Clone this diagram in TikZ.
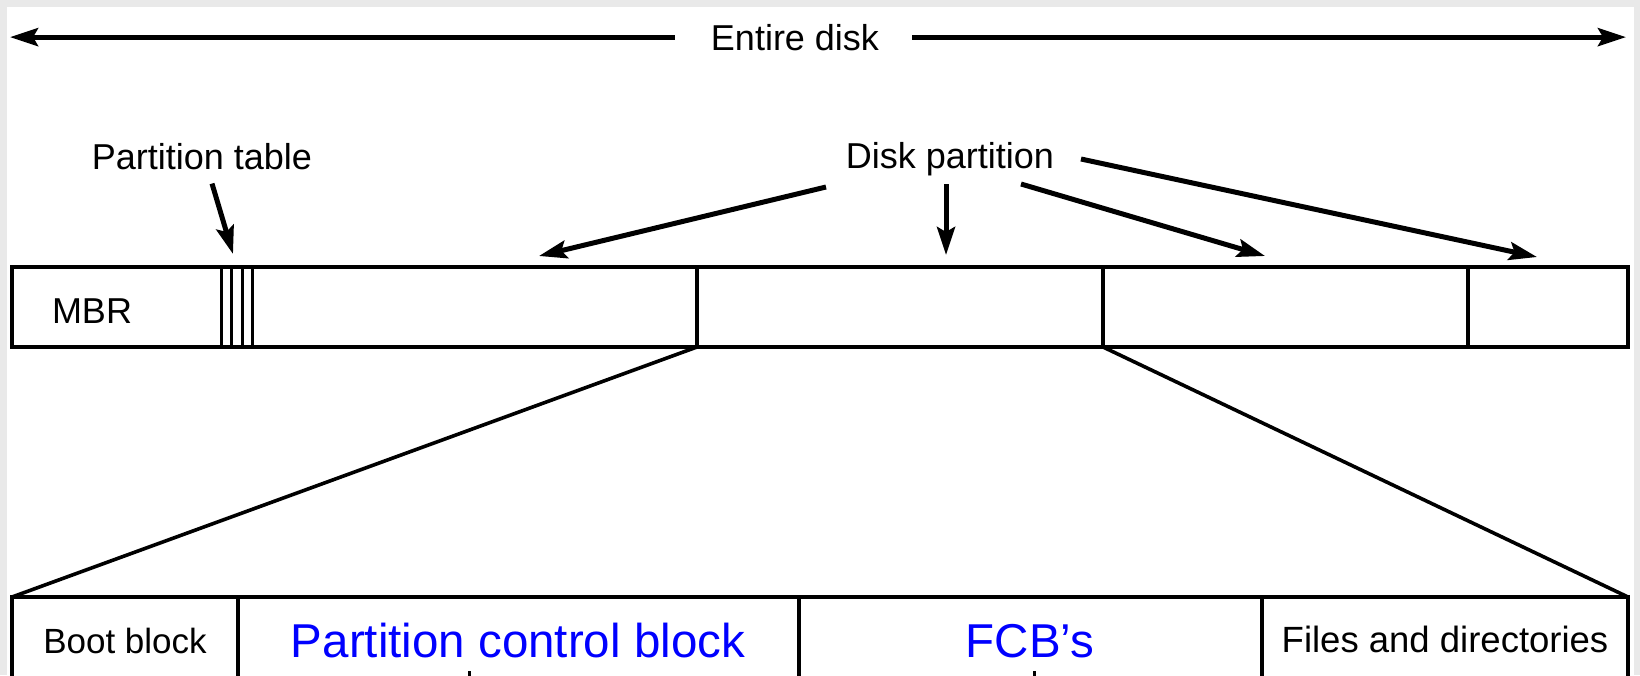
\documentclass[tikz,border=0pt]{standalone}
\usepackage{fontspec}
\setmainfont{Liberation Sans}
\usetikzlibrary{arrows.meta}
\definecolor{framegray}{RGB}{233,233,233}
\definecolor{pcbblue}{RGB}{0,0,255}

\begin{document}
\begin{tikzpicture}[x=1pt,y=-1pt,
  lbl/.style={inner sep=0pt, anchor=base, font=\fontsize{36}{40}\selectfont},
  cell/.style={inner sep=0pt, anchor=base, font=\fontsize{35}{40}\selectfont},
  widecell/.style={cell, font=\fontsize{36.5}{40}\selectfont},
  bluecell/.style={inner sep=0pt, anchor=base, text=pcbblue, font=\fontsize{47.5}{52}\selectfont},
  pointer/.style={line width=5pt, -{Stealth[length=28pt,width=18pt,inset=5pt]}},
  outline/.style={line width=3.6pt},
  tableline/.style={line width=3pt}]

\useasboundingbox (0,0) rectangle (1640,675);
\fill[framegray] (0,0) rectangle (1640,675);
\fill[white] (7,7) rectangle (1634,675);

% whole-disk span
\node[lbl] (entire) at (795,50) {Entire disk};
\coordinate (diskL) at (10,36);
\coordinate (diskR) at (1626,36);
\draw[pointer] ([xshift=-36pt]entire.west) -- (entire.west -| diskL);
\draw[pointer] ([xshift=33pt]entire.east) -- (entire.east -| diskR);

% labels above the disk bar
\node[lbl] (ptab) at (202,169) {Partition table};
\node[lbl] (dpart) at (950,168) {Disk partition};

\coordinate (ptabtip) at (233,254);
\draw[pointer] ([xshift=10pt,yshift=-14pt]ptab.south) -- (ptabtip);

\coordinate (dpA) at (826,187);  \coordinate (tipA) at (539,256);
\coordinate (dpB) at (946,184);  \coordinate (tipB) at (946,255);
\coordinate (dpC) at (1021,184); \coordinate (tipC) at (1265,256);
\coordinate (dpD) at (1081,159); \coordinate (tipD) at (1537,257);
\draw[pointer] (dpA) -- (tipA);
\draw[pointer] (dpB) -- (tipB);
\draw[pointer] (dpC) -- (tipC);
\draw[pointer] (dpD) -- (tipD);

% disk bar
\draw[outline] (12,267) rectangle (1628,347);
\foreach \x in {221,231,242,252} \draw[tableline] (\x,267) -- (\x,347);
\draw[outline] (697,267) -- (697,347);
\draw[outline] (1103,267) -- (1103,347);
\draw[outline] (1468,267) -- (1468,347);
\node[lbl] (mbr) at (92,323) {MBR};

% zoom lines to the partition layout
\coordinate (d1b) at (697,347);
\coordinate (d2b) at (1103,347);
\coordinate (bl) at (12,597);
\coordinate (br) at (1628,597);
\draw[outline] (d1b) -- (bl);
\draw[outline] (d2b) -- (br);

% partition layout
\draw[outline] (12,680) -- (bl) -- (br) -- (1628,680);
\foreach \x in {238,799,1262} \draw[outline] (\x,597) -- (\x,680);

\node[cell] (boot) at (125,653) {Boot block};
\node[bluecell] (pcb) at (518,657) {Partition control block};
\node[bluecell] (fcb) at (1030,657) {FCB’s};
\node[widecell] (files) at (1445,652) {Files and directories};

\draw[tableline] (469,671) -- (469,680);
\draw[tableline] (1034,671) -- (1034,680);
\end{tikzpicture}
\end{document}
